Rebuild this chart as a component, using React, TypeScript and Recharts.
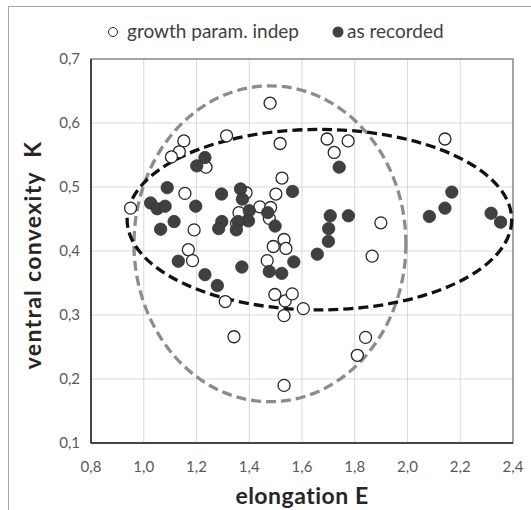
import React from 'react';
import {
  ScatterChart,
  Scatter,
  XAxis,
  YAxis,
  CartesianGrid,
  ReferenceArea,
} from 'recharts';

// growth param. indep (open circles)
const indepE = [
  1.479, 1.314, 1.152, 1.135, 1.105, 1.517, 1.236, 1.156, 0.95, 1.524,
  1.501, 1.388, 1.44, 1.481, 1.361, 1.352, 1.476, 1.191, 1.532, 1.539,
  1.491, 1.169, 1.185, 1.468, 1.309, 1.342, 1.532, 1.497, 1.536, 1.532,
  1.563, 1.605, 1.695, 1.775, 1.722, 2.142, 1.899, 1.866, 1.841, 1.81,
];
const indepK = [
  0.631, 0.58, 0.572, 0.555, 0.547, 0.568, 0.531, 0.49, 0.467, 0.514,
  0.489, 0.491, 0.469, 0.468, 0.46, 0.443, 0.451, 0.433, 0.418, 0.404,
  0.407, 0.402, 0.385, 0.385, 0.321, 0.266, 0.19, 0.332, 0.322, 0.299,
  0.333, 0.31, 0.575, 0.572, 0.554, 0.575, 0.444, 0.392, 0.265, 0.237,
];

// as recorded (filled circles)
const recE = [
  1.232, 1.201, 1.089, 1.026, 1.051, 1.081, 1.197, 1.115, 1.064, 1.295,
  1.367, 1.374, 1.4, 1.397, 1.358, 1.296, 1.284, 1.351, 1.47, 1.498,
  1.564, 1.131, 1.232, 1.279, 1.372, 1.476, 1.523, 1.569, 1.658, 1.7,
  1.701, 1.707, 1.776, 1.741, 2.083, 2.142, 2.168, 2.317, 2.353,
];
const recK = [
  0.546, 0.533, 0.499, 0.475, 0.466, 0.47, 0.47, 0.446, 0.434, 0.489,
  0.497, 0.481, 0.463, 0.447, 0.446, 0.446, 0.435, 0.433, 0.46, 0.439,
  0.493, 0.384, 0.363, 0.346, 0.375, 0.368, 0.365, 0.383, 0.395, 0.415,
  0.435, 0.455, 0.455, 0.531, 0.454, 0.467, 0.492, 0.459, 0.445,
];

// ellipse bounds [E min, E max, K min, K max]
const blackEllipse = [0.937, 2.395, 0.308, 0.59];
const grayEllipse = [0.963, 1.994, 0.1645, 0.658];

const xTicks = [0.8, 1.0, 1.2, 1.4, 1.6, 1.8, 2.0, 2.2, 2.4];
const yTicks = [0.1, 0.2, 0.3, 0.4, 0.5, 0.6, 0.7];

const indepData = indepE.map((e, i) => ({E: e, K: indepK[i]}));
const recData = recE.map((e, i) => ({E: e, K: recK[i]}));

const FONT = 'Lato, "Open Sans", sans-serif';
const comma = (v: number) => v.toFixed(1).replace('.', ',');

const OpenDot = (p: any) => (
  <circle cx={p.cx} cy={p.cy} r={6} fill='#fff' stroke='#262626' strokeWidth={1.3} />
);
const FilledDot = (p: any) => (
  <circle cx={p.cx} cy={p.cy} r={6.2} fill='#404040' stroke='#333' strokeWidth={0.8} />
);

const ellipseShape = (color: string) => (p: any) => (
  <ellipse
    cx={p.x + p.width / 2}
    cy={p.y + p.height / 2}
    rx={p.width / 2}
    ry={p.height / 2}
    fill='none'
    stroke={color}
    strokeWidth={3.3}
    strokeDasharray='10 5'
  />
);

export default function App() {
  return (
    <div
      style={{
        position: 'absolute',
        left: 0,
        top: 0,
        width: 531,
        height: 510,
        background: '#fff',
        fontFamily: FONT,
        overflow: 'hidden',
      }}
    >
      <div
        style={{
          position: 'absolute',
          left: 8,
          top: 6,
          width: 540,
          height: 520,
          borderLeft: '1px solid #a6a6a6',
          borderTop: '1px solid #a6a6a6',
        }}
      />
      <div
        style={{
          position: 'absolute',
          top: 19,
          left: 0,
          width: 531,
          height: 26,
          fontSize: 19,
          color: '#404040',
        }}
      >
        <svg style={{position: 'absolute', left: 107, top: 7}} width={12} height={12}>
          <circle cx={6} cy={6} r={4.5} fill='#fff' stroke='#262626' strokeWidth={1} />
        </svg>
        <span style={{position: 'absolute', left: 127, top: 0}}>growth param. indep</span>
        <svg style={{position: 'absolute', left: 331, top: 6}} width={14} height={14}>
          <circle cx={7} cy={7} r={5.5} fill='#404040' />
        </svg>
        <span style={{position: 'absolute', left: 347, top: 0}}>as recorded</span>
      </div>
      <div style={{position: 'absolute', left: 0, top: 0}}>
        <ScatterChart
          width={531}
          height={510}
          margin={{top: 59, right: 18, left: 0, bottom: 0}}
        >
          <CartesianGrid stroke='#d9d9d9' strokeWidth={1} />
          <ReferenceArea
            x1={0.8}
            x2={2.4}
            y1={0.1}
            y2={0.7}
            fill='none'
            stroke='#8c8c8c'
            strokeWidth={1.5}
          />
          <XAxis
            type='number'
            dataKey='E'
            domain={[0.8, 2.4]}
            ticks={xTicks}
            tickFormatter={comma}
            tickSize={0}
            tickMargin={18}
            height={67}
            stroke='#262626'
            strokeWidth={1.5}
            tick={{fill: '#595959', fontSize: 15, fontFamily: FONT}}
            label={{
              content: (p: any) => (
                <text
                  x={p.viewBox.x + p.viewBox.width / 2}
                  y={504}
                  textAnchor='middle'
                  fontFamily={FONT}
                  fontSize={23}
                  fontWeight='bold'
                  letterSpacing={0.5}
                  fill='#262626'
                >
                  elongation E
                </text>
              ),
            }}
          />
          <YAxis
            type='number'
            dataKey='K'
            domain={[0.1, 0.7]}
            ticks={yTicks}
            tickFormatter={comma}
            tickSize={0}
            tickMargin={11}
            width={91}
            stroke='#262626'
            strokeWidth={1.5}
            tick={{fill: '#595959', fontSize: 15, fontFamily: FONT}}
            label={{
              content: () => {
                const cy = 255;
                return (
                  <text
                    x={41}
                    y={cy}
                    transform={`rotate(-90, 41, ${cy})`}
                    textAnchor='middle'
                    fontFamily={FONT}
                    fontSize={23}
                    fontWeight='bold'
                    letterSpacing={1.3}
                    fill='#262626'
                    xmlSpace='preserve'
                    style={{whiteSpace: 'pre'}}
                  >
                    {'ventral convexity  K'}
                  </text>
                );
              },
            }}
          />
          <Scatter
            name='growth param. indep'
            data={indepData}
            shape={OpenDot}
            isAnimationActive={false}
          />
          <Scatter
            name='as recorded'
            data={recData}
            shape={FilledDot}
            isAnimationActive={false}
          />
          <ReferenceArea
            x1={grayEllipse[0]}
            x2={grayEllipse[1]}
            y1={grayEllipse[2]}
            y2={grayEllipse[3]}
            shape={ellipseShape('#8c8c8c')}
          />
          <ReferenceArea
            x1={blackEllipse[0]}
            x2={blackEllipse[1]}
            y1={blackEllipse[2]}
            y2={blackEllipse[3]}
            shape={ellipseShape('#111')}
          />
        </ScatterChart>
      </div>
    </div>
  );
}
